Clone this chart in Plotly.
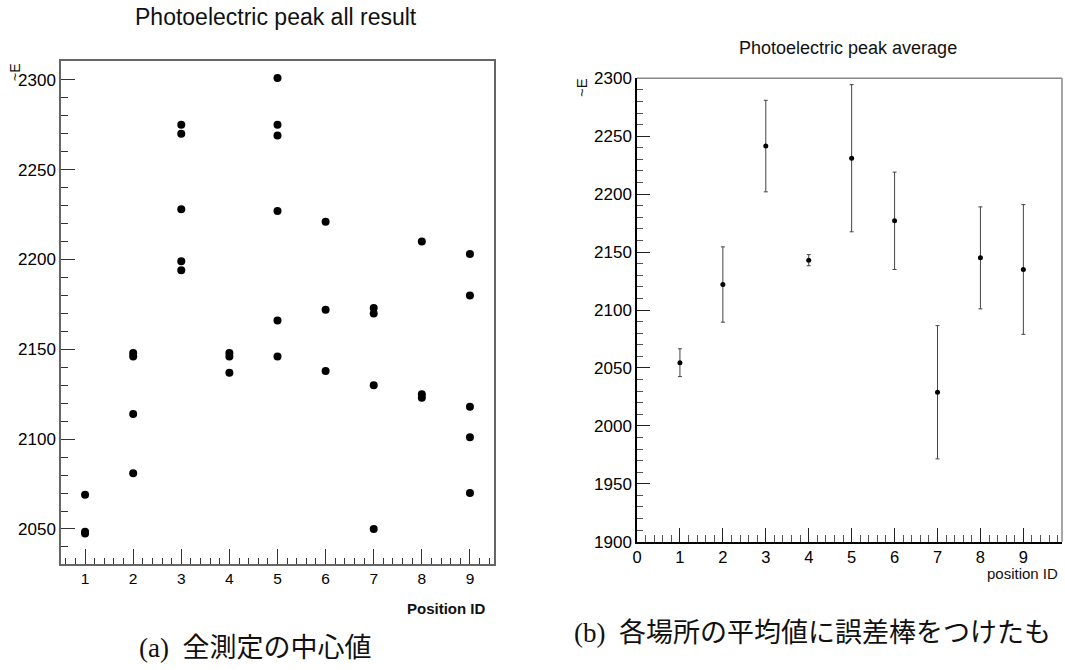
import plotly.graph_objects as go

# ---- data: left panel (all measurements) ----
pos_all = [1, 1, 1,
           2, 2, 2, 2,
           3, 3, 3, 3, 3,
           4, 4, 4,
           5, 5, 5, 5, 5, 5,
           6, 6, 6,
           7, 7, 7, 7,
           8, 8, 8,
           9, 9, 9, 9, 9]
E_all = [2069, 2048.5, 2047.5,
         2148, 2146, 2114, 2081,
         2275, 2270, 2228, 2199, 2194,
         2148, 2146, 2137,
         2301, 2275, 2269, 2227, 2166, 2146,
         2221, 2172, 2138,
         2173, 2170, 2130, 2050,
         2210, 2125, 2123,
         2203, 2180, 2118, 2101, 2070]

# ---- data: right panel (averages with error bars) ----
pos_avg = [1, 2, 3, 4, 5, 6, 7, 8, 9]
E_avg = [2054.5, 2122, 2241.5, 2143, 2231, 2177, 2029, 2145, 2135]
E_err = [12, 32.5, 39.5, 4.8, 63.5, 42, 57.5, 44, 56]

title_left = "Photoelectric peak all result"
title_right = "Photoelectric peak average"
caption_a = "(a)\u00a0\u00a0全測定の中心値"
caption_b = "(b)\u00a0\u00a0各場所の平均値に誤差棒をつけたも"

W, H = 1065, 670
SANS = "Liberation Sans, Arial, Helvetica, sans-serif"
SERIF = "Liberation Serif, DejaVu Serif, Noto Sans CJK JP, serif"


def px_x(v):
    return v / W


def px_y(v):
    return 1 - v / H


def minor_vals(lo, hi, step, major):
    n0 = int(round(lo / step)) - 1
    n1 = int(round(hi / step)) + 1
    out = []
    for k in range(n0, n1 + 1):
        v = round(k * step, 6)
        if lo < v < hi and abs(v / major - round(v / major)) > 1e-6:
            out.append(v)
    return out


L_XR = [0.5, 9.5]
L_YR = [2030.5, 2310.5]
R_XR = [0, 9.9]
R_YR = [1900, 2300]

L_XD = [px_x(61), px_x(494)]
L_YD = [px_y(564), px_y(61)]
R_XD = [px_x(637), px_x(1062)]
R_YD = [px_y(541.7), px_y(78.3)]

fig = go.Figure()

fig.add_trace(go.Scatter(
    x=pos_all, y=E_all, mode="markers",
    marker=dict(color="black", size=8, symbol="circle"),
    xaxis="x", yaxis="y", showlegend=False, hoverinfo="x+y"))

fig.add_trace(go.Scatter(
    x=pos_avg, y=E_avg, mode="markers",
    marker=dict(color="black", size=5, symbol="circle"),
    error_y=dict(type="data", array=E_err, visible=True,
                 color="#444444", thickness=1, width=2),
    xaxis="x2", yaxis="y2", showlegend=False, hoverinfo="x+y"))

# empty helper traces so the minor-tick overlay axes get drawn
for xa, ya in [("x3", "y"), ("x", "y3"), ("x4", "y2"), ("x2", "y4")]:
    fig.add_trace(go.Scatter(x=[], y=[], xaxis=xa, yaxis=ya,
                             showlegend=False, hoverinfo="skip"))

frame_col = "#666666"


def base_axis(**kw):
    d = dict(showgrid=False, zeroline=False, automargin=False)
    d.update(kw)
    return d


def minor_axis(overlay, anchor, domain, rng, vals, ticklen, color):
    return base_axis(overlaying=overlay, anchor=anchor, domain=domain, range=rng,
                     tickmode="array", tickvals=vals, ticks="inside",
                     ticklen=ticklen, tickcolor=color, tickwidth=1,
                     showticklabels=False, showline=False)


fig.update_layout(
    width=W, height=H,
    margin=dict(l=0, r=0, t=0, b=0, autoexpand=False),
    paper_bgcolor="white", plot_bgcolor="white",
    font=dict(family=SANS, color="black"),
    xaxis=base_axis(
        domain=L_XD, range=L_XR, anchor="y",
        showline=True, linecolor=frame_col, linewidth=1.5, mirror=True,
        tickmode="linear", tick0=0, dtick=1,
        ticks="inside", ticklen=15, tickcolor="#333", tickwidth=1,
        tickfont=dict(size=15.5, family=SANS),
    ),
    yaxis=base_axis(
        domain=L_YD, range=L_YR, anchor="x",
        showline=True, linecolor=frame_col, linewidth=1.5, mirror=True,
        tickmode="linear", tick0=0, dtick=50,
        ticks="inside", ticklen=14, tickcolor="#333", tickwidth=1,
        tickfont=dict(size=17, family=SANS),
    ),
    xaxis3=minor_axis("x", "y", L_XD, L_XR, minor_vals(L_XR[0], L_XR[1], 0.2, 1), 6, "#333"),
    yaxis3=minor_axis("y", "x", L_YD, L_YR, minor_vals(L_YR[0], L_YR[1], 10, 50), 7, "#333"),
    xaxis2=base_axis(
        domain=R_XD, range=R_XR, anchor="y2",
        showline=True, linecolor="black", linewidth=1.5, mirror=False,
        tickmode="linear", tick0=0, dtick=1,
        ticks="inside", ticklen=14, tickcolor="#222", tickwidth=1,
        tickfont=dict(size=16.5, family=SANS),
    ),
    yaxis2=base_axis(
        domain=R_YD, range=R_YR, anchor="x2",
        showline=True, linecolor="black", linewidth=1.5, mirror=False,
        tickmode="linear", tick0=0, dtick=50,
        ticks="inside", ticklen=13, tickcolor="#222", tickwidth=1,
        tickfont=dict(size=17, family=SANS),
    ),
    xaxis4=minor_axis("x2", "y2", R_XD, R_XR, minor_vals(R_XR[0], R_XR[1], 0.2, 1), 7, "#555"),
    yaxis4=minor_axis("y2", "x2", R_YD, R_YR, minor_vals(R_YR[0], R_YR[1], 10, 50), 6, "#555"),
    shapes=[
        dict(type="line", xref="x2 domain", yref="y2 domain", x0=0, x1=1, y0=1, y1=1,
             line=dict(color="#888888", width=1.5)),
        dict(type="line", xref="x2 domain", yref="y2 domain", x0=1, x1=1, y0=0, y1=1,
             line=dict(color="#888888", width=1.5)),
    ],
    annotations=[
        dict(text=title_left, x=px_x(276), y=px_y(17), xref="paper", yref="paper",
             showarrow=False, xanchor="center", yanchor="middle",
             font=dict(size=23, family=SANS, color="#111")),
        dict(text=title_right, x=px_x(848), y=px_y(48), xref="paper", yref="paper",
             showarrow=False, xanchor="center", yanchor="middle",
             font=dict(size=18, family=SANS, color="#111")),
        dict(text="~E", x=px_x(15), y=px_y(72), xref="paper", yref="paper",
             showarrow=False, xanchor="center", yanchor="middle", textangle=-90,
             font=dict(size=14, family=SANS, color="#111")),
        dict(text="~E", x=px_x(581), y=px_y(88), xref="paper", yref="paper",
             showarrow=False, xanchor="center", yanchor="middle", textangle=-90,
             font=dict(size=15, family=SANS, color="#111")),
        dict(text="<b>Position ID</b>", x=px_x(488), y=px_y(608), xref="paper", yref="paper",
             showarrow=False, xanchor="right", yanchor="middle",
             font=dict(size=15, family=SANS, color="#111")),
        dict(text="position ID", x=px_x(1060), y=px_y(573), xref="paper", yref="paper",
             showarrow=False, xanchor="right", yanchor="middle",
             font=dict(size=15, family=SANS, color="#111")),
        dict(text=caption_a, x=px_x(137), y=px_y(648), xref="paper", yref="paper",
             showarrow=False, xanchor="left", yanchor="middle",
             font=dict(size=27, family=SERIF, color="#111")),
        dict(text=caption_b, x=px_x(572), y=px_y(633), xref="paper", yref="paper",
             showarrow=False, xanchor="left", yanchor="middle",
             font=dict(size=27, family=SERIF, color="#111")),
    ],
)

fig.write_html(
    "out.html",
    config={"displayModeBar": False},
    post_script="document.body.style.margin='0';document.body.style.padding='0';"
                "document.body.style.overflow='hidden';",
)
